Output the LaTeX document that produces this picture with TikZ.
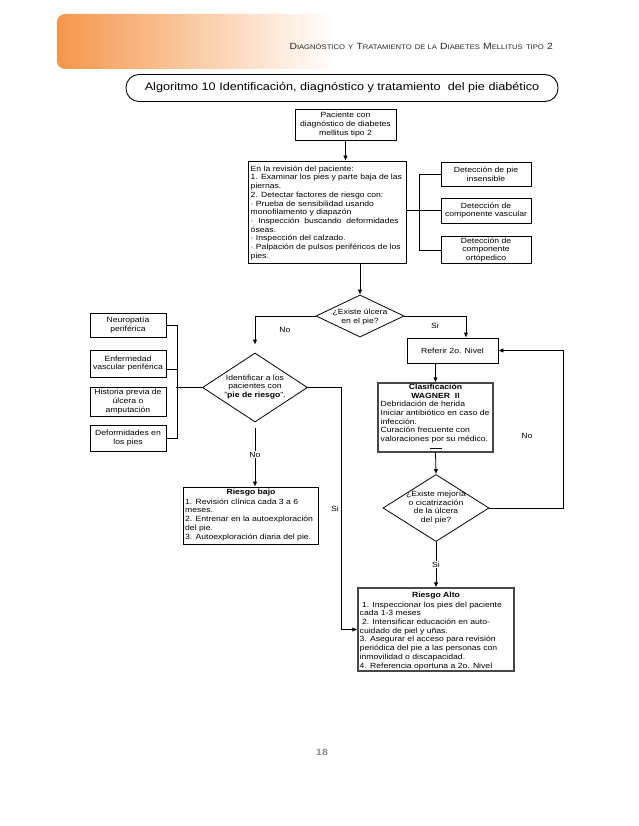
\documentclass[tikz,border=0pt]{standalone}
\usepackage{fontspec}
\setmainfont{Liberation Sans}[FakeStretch=1.15]
\usetikzlibrary{arrows.meta,shapes.geometric,calc}
\definecolor{hdrorange}{HTML}{F5964B}
\definecolor{pnum}{HTML}{8A8A8A}
\newcommand{\hsc}[2]{{\fontsize{9}{9}\selectfont #1}{\fontsize{6.65}{9}\selectfont #2}}
\begin{document}
\begin{tikzpicture}[x=1pt,y=-1pt,
  txt/.style={font=\fontsize{7.5}{8.7}\selectfont, inner sep=0pt, align=left},
  ctxt/.style={font=\fontsize{7.5}{8.6}\selectfont, inner sep=0pt, align=center},
  box/.style={draw, line width=0.8pt, inner sep=0pt, font=\fontsize{7.5}{8.6}\selectfont, align=center},
  gbox/.style={box, draw=black!72, line width=1.2pt},
  dia/.style={draw, diamond, line width=0.8pt, inner sep=0pt},
  lbl/.style={font=\fontsize{7.5}{8.6}\selectfont, inner sep=1pt},
  ln/.style={line width=0.8pt},
  arr/.style={ln, -{Latex[length=5pt,width=4.5pt]}},
]
\useasboundingbox (0,0) rectangle (638,826);
\fill[white] (0,0) rectangle (638,826);

% header band
\shade[left color=hdrorange, middle color=hdrorange!40, right color=white, rounded corners=8pt] (57,14) rectangle (335,69);
\node[anchor=base east, inner sep=0pt, text=black!85] (hdr) at (553,50)
  {\hsc{D}{IAGNÓSTICO} \hsc{}{Y} \hsc{T}{RATAMIENTO} \hsc{}{DE LA} \hsc{D}{IABETES} \hsc{M}{ELLITUS} \hsc{}{TIPO} \hsc{2}{}};

% title
\node[draw, line width=0.9pt, rounded corners=13pt, minimum width=432, minimum height=27,
  font=\fontsize{11}{13}\selectfont, inner sep=0pt] (title) at (342,88)
  {Algoritmo 10 Identificación, diagnóstico y tratamiento\ \ del pie diabético};

% top
\node[box, minimum width=101, minimum height=31] (pac) at (345.5,124.5) {Paciente con\\diagnóstico de diabetes\\mellitus tipo 2};
\node[box, minimum width=158, minimum height=102] (main) at (327,212) {};
\node[txt, anchor=north west] (maintxt) at (250.5,165.5) {En la revisión del paciente:\\1. Examinar los pies y parte baja de las\\piernas.\\2. Detectar factores de riesgo con:\\· Prueba de sensibilidad usando\\monofilamento y diapazón\\\makebox[148pt][s]{· Inspección buscando deformidades}\\óseas.\\· Inspección del calzado.\\· Palpación de pulsos periféricos de los\\pies.};

\node[box, minimum width=90, minimum height=24] (rb1) at (486,174.5) {Detección de pie\\insensible};
\node[box, minimum width=90, minimum height=25] (rb2) at (486,210.5) {Detección de\\componente vascular};
\node[box, minimum width=90, minimum height=27] (rb3) at (486,250) {Detección de\\componente\\ortópedico};

\draw[arr] (pac.south) -- (pac.south |- main.north);
\draw[ln] (rb1.west) -- ++(-21,0) |- (rb3.west);
\draw[ln] (main.east |- rb2.west) -- (rb2.west);

% first decision
\node[dia, minimum width=88, minimum height=42] (d1) at (360,316) {};
\node[ctxt] (d1t) at (360,317) {¿Existe úlcera\\en el pie?};
\draw[arr] (main.south -| d1.north) -- (d1.north);

% right branch
\node[box, minimum width=91, minimum height=25] (ref) at (452.5,350.5) {Referir 2o. Nivel};
\draw[arr] (d1.east) -| ([xshift=13.5pt]ref.north);
\node[lbl] (si1) at (435,326) {Si};

\node[gbox, minimum width=115, minimum height=69] (wag) at (435.5,417.5) {};
\node[ctxt, font=\bfseries\fontsize{7.5}{8.6}\selectfont] (wagt) at (435.5,391.5) {Clasificación\\WAGNER\ \ II};
\node[txt, anchor=north west] (wagb) at (380.5,401) {Debridación de herida\\Iniciar antibiótico en caso de\\infección.\\Curación frecuente con\\valoraciones por su médico.};
\node[inner sep=0pt] (wagdash) at (436,448.5) {\rule{12pt}{1.2pt}};
\draw[arr] (ref.south -| wag.north) -- (wag.north);

\node[dia, minimum width=106, minimum height=67] (d3) at (436,508) {};
\node[ctxt] (d3t) at (436,507.5) {¿Existe mejoría\\o cicatrización\\de la úlcera\\del pie?};
\draw[arr] (wag.south) -- (d3.north);
\draw[arr] (d3.east) -| ($(ref.east)+(65,0)$) -- (ref.east);
\node[lbl] (no3) at (527,436) {No};

\node[gbox, minimum width=156, minimum height=83] (ra) at (436,629.5) {};
\node[ctxt, font=\bfseries\fontsize{7.5}{8.6}\selectfont] (rat) at (436,596) {Riesgo Alto};
\node[txt, anchor=north west] (rab) at (359.5,601.5) {\ 1. Inspeccionar los pies del paciente\\cada 1-3 meses\\\ 2. Intensificar educación en auto-\\cuidado de piel y uñas.\\3. Asegurar el acceso para revisión\\periódica del pie a las personas con\\inmovilidad o discapacidad.\\4. Referencia oportuna a 2o. Nivel};
\draw[arr] (d3.south) -- (ra.north) node[pos=0.5, lbl, fill=white] (si3) {Si};

% left branch
\node[dia, minimum width=105, minimum height=69] (idd) at (255,387.5) {};
\node[ctxt] (iddt) at (255,387) {Identificar a los\\pacientes con\\"\textbf{pie de riesgo}".};
\draw[arr] (d1.west) -| ([yshift=8pt]idd.north);
\node[lbl] (no1) at (285,330) {No};

\node[box, minimum width=76, minimum height=24] (lb1) at (128,325) {Neuropatía\\periférica};
\node[box, minimum width=76, minimum height=27] (lb2) at (128,363.5) {Enfermedad\\vascular periférica};
\node[box, minimum width=76, minimum height=29] (lb3) at (128,401.5) {Historia previa de\\úlcera o\\amputación};
\node[box, minimum width=76, minimum height=26] (lb4) at (128,438) {Deformidades en\\los pies};
\draw[ln] (lb1.east) -- ++(11,0) |- (lb4.east);
\draw[ln] ([yshift=-5.5pt]lb2.east) -- ++(11,0);
\draw[ln] (idd.west) -- ++(-26,0);

\node[box, minimum width=135, minimum height=57] (rbj) at (251,515.5) {};
\node[ctxt, font=\bfseries\fontsize{7.5}{8.6}\selectfont] (rbjt) at (251,493) {Riesgo bajo};
\node[txt, anchor=north west] (rbjb) at (185,498.5) {1. Revisión clínica cada 3 a 6\\meses.\\2. Entrenar en la autoexploración\\del pie.\\3. Autoexploración diaria del pie.};
\draw[arr] ([yshift=-6pt]idd.south) -- (idd.south |- rbj.north) node[pos=0.45, lbl, fill=white] (no2) {No};

\draw[arr] (idd.east) -| ($(ra.west)+(-16,0)$) -- (ra.west);
\node[lbl, anchor=east] (si2) at (340,509) {Si};

% page number
\node[font=\bfseries\fontsize{9}{10}\selectfont, text=pnum] (pg) at (322,752) {18};
\end{tikzpicture}
\end{document}
